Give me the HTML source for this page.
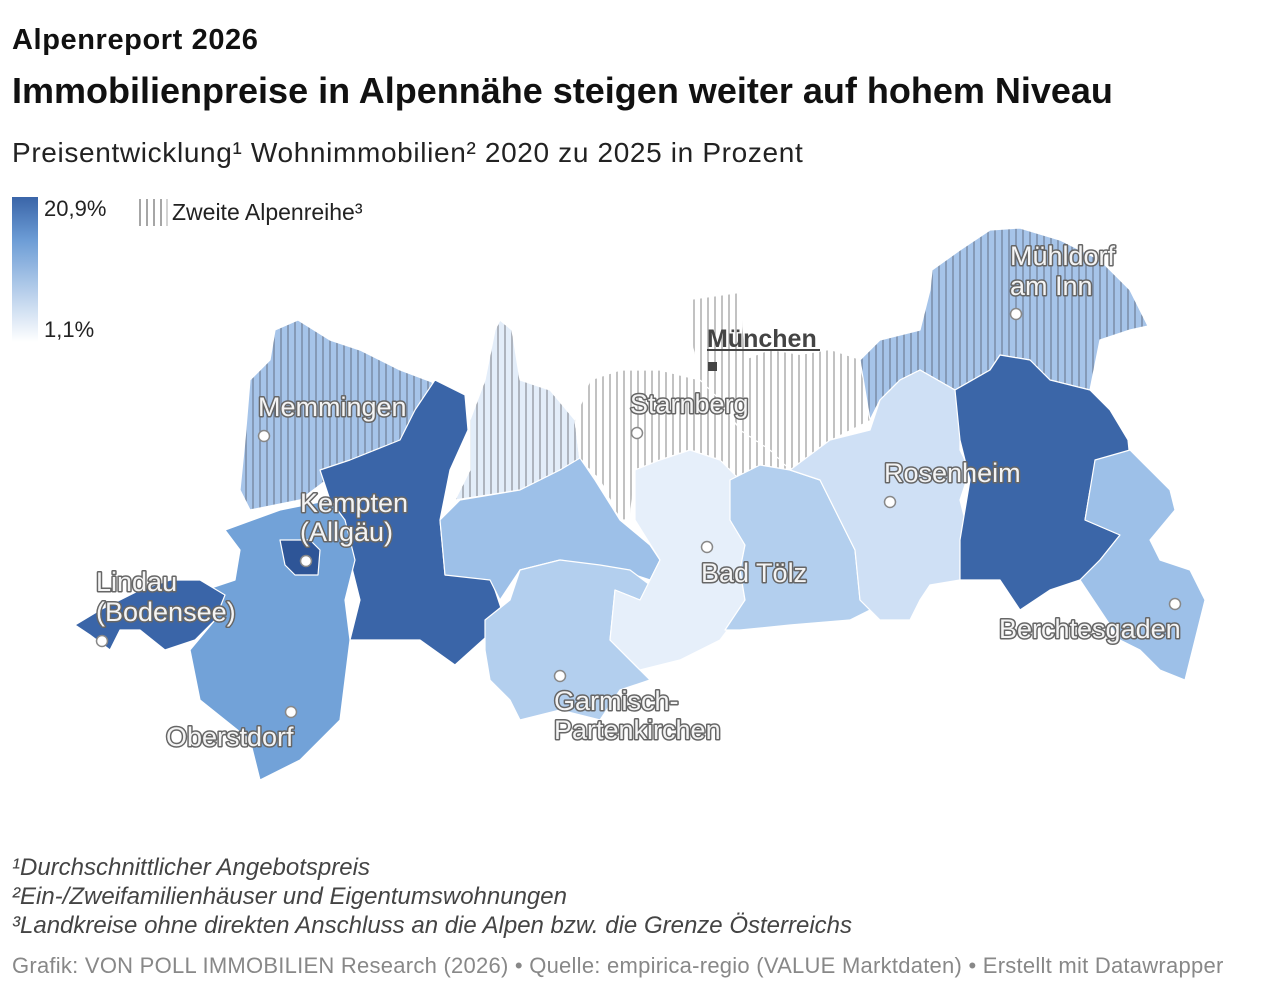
<!DOCTYPE html>
<html><head><meta charset="utf-8"><style>
body{margin:0;width:1280px;height:990px;background:#fff;font-family:"Liberation Sans",sans-serif;overflow:hidden;position:relative}
.t{position:absolute;left:12px;white-space:nowrap;color:#111}
</style></head><body>
<div class="t" style="top:24px;font-size:29px;font-weight:bold;letter-spacing:0.6px">Alpenreport 2026</div>
<div class="t" style="top:70px;font-size:36px;font-weight:bold;letter-spacing:0px">Immobilienpreise in Alpennähe steigen weiter auf hohem Niveau</div>
<div class="t" style="top:137px;font-size:28px;color:#222;letter-spacing:0.65px">Preisentwicklung¹ Wohnimmobilien² 2020 zu 2025 in Prozent</div>
<div class="t" style="top:853px;font-size:24px;font-style:italic;color:#444;line-height:29px">¹Durchschnittlicher Angebotspreis<br>²Ein-/Zweifamilienhäuser und Eigentumswohnungen<br>³Landkreise ohne direkten Anschluss an die Alpen bzw. die Grenze Österreichs</div>
<div class="t" style="top:953px;font-size:22px;color:#888;letter-spacing:0.25px">Grafik: VON POLL IMMOBILIEN Research (2026) • Quelle: empirica-regio (VALUE Marktdaten) • Erstellt mit Datawrapper</div>
<svg width="1280" height="990" style="position:absolute;left:0;top:0">
<defs>
<linearGradient id="lg" x1="0" y1="0" x2="0" y2="1"><stop offset="0" stop-color="#3a65a8"/><stop offset="0.3" stop-color="#6d9dd6"/><stop offset="1" stop-color="#fff"/></linearGradient>
<pattern id="h1" width="7" height="10" patternUnits="userSpaceOnUse"><rect width="7" height="10" fill="#a6c4e9"/><line x1="1" y1="0" x2="1" y2="10" stroke="#6f7f96" stroke-width="1.2"/></pattern>
<pattern id="h2" width="7" height="10" patternUnits="userSpaceOnUse"><rect width="7" height="10" fill="#e3edf9"/><line x1="1" y1="0" x2="1" y2="10" stroke="#8a8f98" stroke-width="1.2"/></pattern>
<pattern id="h3" width="7" height="10" patternUnits="userSpaceOnUse"><rect width="7" height="10" fill="#fff"/><line x1="1" y1="0" x2="1" y2="10" stroke="#999" stroke-width="1.2"/></pattern>
</defs>
<rect x="12" y="197" width="26" height="145" fill="url(#lg)"/>
<text x="44" y="216" font-size="22" fill="#222">20,9%</text>
<text x="44" y="337" font-size="22" fill="#222">1,1%</text>
<g stroke="#777" stroke-width="1.3"><line x1="140" y1="199" x2="140" y2="226"/><line x1="147" y1="199" x2="147" y2="226"/><line x1="154" y1="199" x2="154" y2="226"/><line x1="161" y1="199" x2="161" y2="226"/><line x1="167" y1="199" x2="167" y2="226" stroke="#bbb"/></g>
<text x="172" y="220" font-size="23" fill="#222">Zweite Alpenreihe³</text>
<g stroke="#fff" stroke-width="1.2" stroke-linejoin="round">
<polygon fill="url(#h3)" stroke="none" points="690,300 740,293 745,360 770,350 800,355 830,350 860,360 870,420 830,440 790,470 770,450 740,430 720,400 700,380 692,340"/>
<polygon fill="url(#h2)" points="455,500 470,470 470,420 485,380 495,330 500,320 512,330 520,380 550,390 575,420 580,460 560,470 520,490"/>
<polygon fill="url(#h3)" points="575,420 590,380 620,370 660,370 700,380 720,400 740,430 770,450 790,470 760,465 740,480 720,460 690,450 660,460 635,470 630,520 620,520 600,480 580,460"/>
<polygon fill="url(#h1)" points="250,380 270,360 275,330 298,320 330,340 360,350 400,370 432,382 440,410 420,440 410,470 400,500 370,500 340,470 300,500 250,510 240,490 245,440"/>
<polygon fill="url(#h1)" points="860,360 880,340 920,330 930,290 932,270 960,250 990,230 1020,228 1060,240 1100,260 1130,290 1148,326 1130,330 1100,340 1090,390 1050,380 1030,360 1000,355 990,370 955,390 920,370 900,380 880,400 870,420"/>
<polygon fill="#3a65a8" points="435,380 465,395 468,430 450,470 440,520 445,575 490,575 505,620 455,665 420,640 350,640 360,600 350,560 320,470 350,460 400,440 415,410"/>
<polygon fill="#72a2d8" points="225,530 280,510 330,500 345,520 355,560 345,600 350,640 340,720 300,760 260,780 250,740 200,700 190,650 215,620 205,590 235,580 240,550"/>
<polygon fill="#3a65a8" points="75,625 100,610 140,590 170,580 200,580 225,595 215,620 195,640 165,650 140,630 120,630 110,650 90,635"/>
<polygon fill="#2e5597" points="280,540 310,540 320,550 318,575 295,575 285,565"/>
<polygon fill="#9dc0e8" points="440,520 460,500 520,490 560,470 580,458 595,480 620,520 650,545 660,560 650,580 620,570 590,565 560,560 520,570 500,600 490,580 445,575"/>
<polygon fill="#b3cfee" points="485,620 510,600 520,570 560,560 600,565 630,570 650,585 640,600 615,590 610,640 650,680 620,690 600,720 560,710 520,720 510,700 490,680 485,650"/>
<polygon fill="#e6effa" points="635,470 660,460 690,450 720,460 740,480 730,520 745,545 740,570 745,600 735,620 720,640 680,660 640,670 610,640 615,590 640,600 650,580 660,560 635,520"/>
<polygon fill="#b3cfee" points="730,480 760,465 790,470 820,480 840,520 855,550 860,600 870,610 850,620 790,625 740,630 725,630 745,600 740,570 745,545 730,520"/>
<polygon fill="#cfe0f5" points="790,470 830,440 870,430 880,400 900,380 920,370 955,390 960,420 960,450 970,470 960,500 970,540 960,560 960,580 930,585 920,600 910,620 880,620 860,600 855,550 840,520 820,480"/>
<polygon fill="#3b66a8" points="955,390 990,370 1000,355 1030,360 1050,380 1090,390 1110,410 1128,440 1132,480 1090,490 1085,520 1120,535 1100,560 1080,580 1050,590 1020,610 1000,580 960,580 960,540 970,480 960,440"/>
<polygon fill="#9dc0e8" points="1090,490 1095,460 1130,450 1150,470 1170,490 1175,510 1150,540 1160,560 1190,570 1205,600 1195,640 1185,680 1160,670 1140,650 1120,640 1100,610 1080,580 1100,560 1120,535 1085,520"/>
</g>
<g fill="#fff" stroke="#888" stroke-width="1.5">
<circle cx="264" cy="436" r="5.5"/><circle cx="637" cy="433" r="5.5"/><circle cx="1016" cy="314" r="5.5"/><circle cx="890" cy="502" r="5.5"/><circle cx="306" cy="561" r="5.5"/><circle cx="707" cy="547" r="5.5"/><circle cx="102" cy="641" r="5.5"/><circle cx="1175" cy="604" r="5.5"/><circle cx="560" cy="676" r="5.5"/><circle cx="291" cy="712" r="5.5"/>
</g>
<rect x="708" y="362" width="9" height="9" fill="#444"/>
<text x="707" y="347" font-size="25" font-weight="bold" fill="#444">München</text>
<line x1="707" y1="350" x2="820" y2="350" stroke="#444" stroke-width="2"/>
<g font-size="27" fill="#f4f4f4" stroke="#666" stroke-width="3" paint-order="stroke" stroke-linejoin="round" letter-spacing="0">
<text x="258" y="416">Memmingen</text>
<text x="630" y="413">Starnberg</text>
<text x="1010" y="265">Mühldorf</text>
<text x="1010" y="295">am Inn</text>
<text x="884" y="482">Rosenheim</text>
<text x="300" y="512">Kempten</text>
<text x="300" y="541">(Allgäu)</text>
<text x="701" y="582">Bad Tölz</text>
<text x="96" y="591">Lindau</text>
<text x="96" y="621">(Bodensee)</text>
<text x="999" y="638">Berchtesgaden</text>
<text x="554" y="710">Garmisch-</text>
<text x="554" y="739">Partenkirchen</text>
<text x="166" y="746">Oberstdorf</text>
</g>
</svg>
</body></html>
